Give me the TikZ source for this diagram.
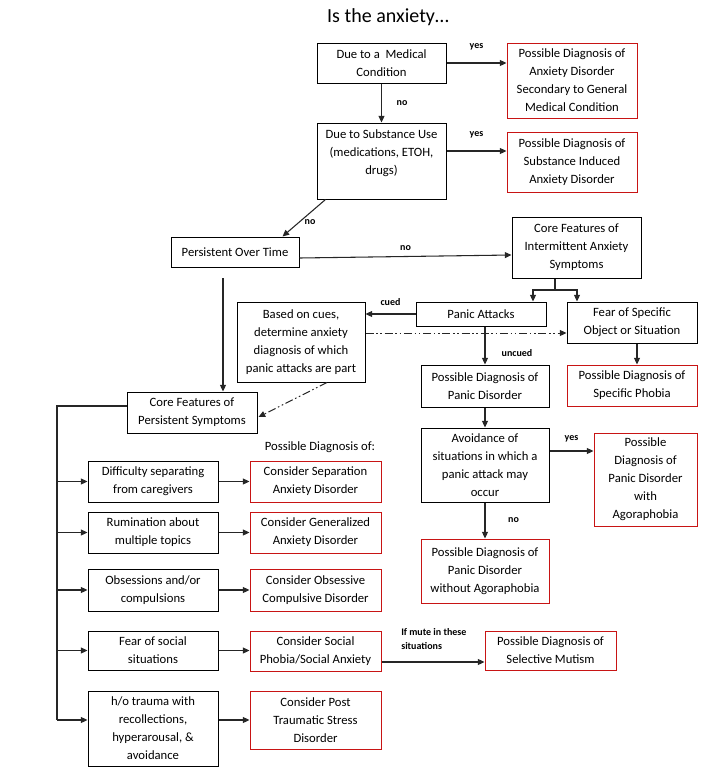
\documentclass[tikz,border=0pt]{standalone}
\usepackage{fontspec}
\setmainfont{Carlito}
\usetikzlibrary{arrows.meta,calc}
\definecolor{boxred}{RGB}{200,20,20}
\begin{document}
\begin{tikzpicture}[x=0.75pt,y=-0.75pt,
  base/.style={draw, line width=0.75pt, align=center, inner sep=0pt, font=\fontsize{9.5}{13.5}\selectfont},
  bk/.style={base, draw=black},
  rd/.style={base, draw=boxred},
  sz/.style 2 args={minimum width=#1*0.75pt, minimum height=#2*0.75pt},
  arr/.style={draw=black!85, line width=0.8pt, -{Triangle[length=5pt,width=4.5pt]}},
  ln/.style={draw=black!85, line width=0.8pt},
  dd/.style={arr, line width=0.75pt, dash pattern=on 6pt off 2pt on 1.2pt off 2pt on 1.2pt off 2pt},
  lab/.style={font=\fontsize{7.5}{9}\selectfont\bfseries, inner sep=0pt},
  plain/.style={font=\fontsize{9.5}{13.5}\selectfont, inner sep=0pt},
]
\useasboundingbox (0,0) rectangle (701,779);
\node[inner sep=0pt, font=\fontsize{15}{18}\selectfont] (title) at (388,17) {Is the anxiety…};

% top chain
\node[bk, sz={129}{40}] (med) at (381.5,63) {Due to a\ \ Medical\\Condition};
\node[rd, sz={130}{75}] (red1) at (572,80.5) {Possible Diagnosis of\\Anxiety Disorder\\Secondary to General\\Medical Condition};
\node[bk, sz={129}{76}] (subst) at (381.5,161) {Due to Substance Use\\(medications, ETOH,\\drugs)\\\mbox{}};
\node[rd, sz={130}{60}] (red2) at (572,162) {Possible Diagnosis of\\Substance Induced\\Anxiety Disorder};
\node[bk, sz={128}{30}] (pers) at (235,252) {Persistent Over Time};
\node[bk, sz={129}{61}] (coreI) at (576.5,247.5) {Core Features of\\Intermittent Anxiety\\Symptoms};

% intermittent branch
\node[bk, sz={130}{24}] (panic) at (481,314) {Panic Attacks};
\node[bk, sz={130}{41}] (fear) at (632,322.5) {Fear of Specific\\Object or Situation};
\node[bk, sz={128}{80}] (based) at (301,342) {Based on cues,\\determine anxiety\\diagnosis of which\\panic attacks are part};
\node[bk, sz={128}{42}] (pd) at (485,386) {Possible Diagnosis of\\Panic Disorder};
\node[rd, sz={130}{41}] (sp) at (632,385.5) {Possible Diagnosis of\\Specific Phobia};
\node[bk, sz={128}{74}] (avoid) at (485,465) {Avoidance of\\situations in which a\\panic attack may\\occur};
\node[rd, sz={103}{93}] (agora) at (645.5,479.5) {Possible\\Diagnosis of\\Panic Disorder\\with\\Agoraphobia};
\node[rd, sz={128}{64}] (woag) at (485,571) {Possible Diagnosis of\\Panic Disorder\\without Agoraphobia};

% persistent branch
\node[bk, sz={130}{41}] (coreP) at (192,412.5) {Core Features of\\Persistent Symptoms};
\node[plain] (pdx) at (320,447) {Possible Diagnosis of:};
\node[bk, sz={130}{41}] (diff) at (153,481.5) {Difficulty separating\\from caregivers};
\node[rd, sz={131}{41}] (sep) at (315.5,481.5) {Consider Separation\\Anxiety Disorder};
\node[bk, sz={130}{41}] (rum) at (153,532.5) {Rumination about\\multiple topics};
\node[rd, sz={131}{41}] (gad) at (315.5,532.5) {Consider Generalized\\Anxiety Disorder};
\node[bk, sz={130}{42}] (obs) at (153,590) {Obsessions and/or\\compulsions};
\node[rd, sz={131}{42}] (ocd) at (315.5,590) {Consider Obsessive\\Compulsive Disorder};
\node[bk, sz={130}{39}] (soc) at (153,650.5) {Fear of social\\situations};
\node[rd, sz={131}{40}] (socr) at (315.5,651) {Consider Social\\Phobia/Social Anxiety};
\node[rd, sz={131}{39}] (sm) at (550.5,650.5) {Possible Diagnosis of\\Selective Mutism};
\node[bk, sz={130}{75}] (trau) at (153,728.5) {h/o trauma with\\recollections,\\hyperarousal, \&\\avoidance};
\node[rd, sz={131}{58}] (ptsd) at (315.5,720) {Consider Post\\Traumatic Stress\\Disorder};

% connectors top
\draw[arr] (med.east) -- (red1.west |- med.east) node[lab, midway, above=9pt] {yes};
\draw[arr] (med.south) -- (subst.north) node[lab, midway, right=11pt] {no};
\coordinate (s2) at ($(subst.east)+(0,-10)$);
\draw[arr] (s2) -- (red2.west |- s2) node[lab, midway, above=9pt] {yes};
\draw[arr] ($(subst.south west)+(9,0)$) -- ($(pers.north east)+(-17,0)$);
\node[lab] (nolab1) at (310,222) {no};
\draw[arr] ($(pers.east)+(0,6)$) -- ($(coreI.west)+(0,7.5)$) node[lab, midway, above=4pt] {no};

% intermittent connectors
\coordinate (br) at (555,290);
\draw[ln, line width=1.5pt] (coreI.south -| br) -- (br);
\draw[arr] (br) -| ($(panic.north)+(52,0)$);
\draw[arr] (br) -| ($(fear.north)+(-55,0)$);
\draw[arr] (panic.west) -- (based.east |- panic.west) node[lab, midway, above=6pt] {cued};
\coordinate (dd1) at ($(based.east)+(0,-9)$);
\draw[dd] (dd1) -- (fear.west |- dd1);
\draw[arr] (pd.north |- panic.south) -- (pd.north);
\node[lab] (unc) at (517,353) {uncued};
\draw[arr] ($(fear.south)+(5,0)$) -- ($(sp.north)+(5,0)$);
\draw[arr] (pd.south) -- (avoid.north);
\coordinate (ay) at ($(avoid.east)+(0,-14)$);
\draw[arr] (ay) -- (agora.west |- ay) node[lab, midway, above=6pt] {yes};
\draw[arr] (avoid.south) -- (woag.north) node[lab, midway, right=17pt] {no};
\draw[dd] ($(based.south)+(26,0)$) -- ($(coreP.east)+(1,4.5)$);

% persistent connectors
\coordinate (pdown) at (223,278);
\draw[arr] (pdown) -- (pdown |- coreP.north);
\coordinate (lt) at (57,406);
\coordinate (lb) at (57,720);
\draw[ln] (coreP.west |- lt) -- (lt) -- (lb);
\draw[arr] (lt |- diff.west) -- (diff.west);
\draw[arr] (lt |- rum.west) -- (rum.west);
\draw[arr] (lt |- obs.west) -- (obs.west);
\draw[arr] (lt |- soc.west) -- (soc.west);
\draw[arr] (lb) -- (trau.west |- lb);
\draw[arr] (diff.east) -- (sep.west);
\draw[arr] (rum.east) -- (gad.west);
\draw[arr] (obs.east) -- (ocd.west);
\draw[arr] (soc.east) -- (socr.west |- soc.east);
\draw[arr] (trau.east |- ptsd.west) -- (ptsd.west);
\coordinate (mu) at ($(socr.east)+(0,11)$);
\draw[arr] (mu) -- (sm.west |- mu);
\node[lab, align=left, anchor=north west, font=\fontsize{7.5}{11}\selectfont\bfseries] (mute) at (401,628) {If mute in these\\situations};
\end{tikzpicture}
\end{document}
